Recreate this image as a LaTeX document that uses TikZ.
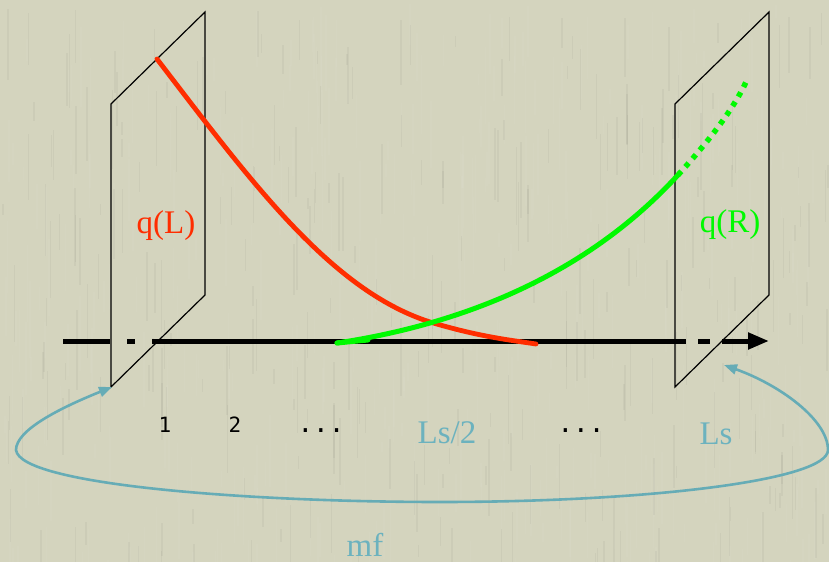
\documentclass[tikz,border=0pt]{standalone}
\usepackage{fontspec}
\setmainfont{Liberation Serif}
\newfontfamily\monofont{DejaVu Sans Mono}
\usetikzlibrary{arrows.meta}
\definecolor{bg}{RGB}{212,212,190}
\definecolor{qred}{RGB}{255,45,0}
\definecolor{qgreen}{RGB}{0,250,0}
\definecolor{teal}{RGB}{102,172,182}
\definecolor{tealtext}{RGB}{108,178,190}
\begin{document}
\begin{tikzpicture}[x=1bp,y=-1bp,
  plane/.style={draw=black,line width=1.2bp,line join=miter},
  axisline/.style={line width=5bp,black},
  curvered/.style={line width=4.8bp,qred,line cap=round},
  curvegreen/.style={line width=5bp,qgreen,line cap=round},
  loopline/.style={line width=2.6bp,teal,{Triangle[length=13bp,width=10bp]}-{Triangle[length=13bp,width=10bp]}},
  bigtext/.style={font=\fontsize{33bp}{36bp}\selectfont,inner sep=0pt,anchor=base},
  numtext/.style={font=\monofont\fontsize{21bp}{24bp}\selectfont,inner sep=0pt,anchor=base},
  dotstext/.style={font=\monofont\fontsize{26bp}{30bp}\selectfont,inner sep=0pt,anchor=base}]
\fill[bg] (0,0) rectangle (829,562);
\useasboundingbox (0,0) rectangle (829,562);
% texture
\pgfmathsetseed{12}
\foreach \i in {1,...,700}{
  \pgfmathsetmacro{\xx}{rnd*829}
  \pgfmathsetmacro{\yy}{rnd*562}
  \pgfmathsetmacro{\ll}{10+rnd*70}
  \pgfmathsetmacro{\cc}{rnd}
  \ifdim\cc pt<0.6pt \def\col{white}\else\def\col{black}\fi
  \draw[\col,opacity=0.035,line width=1.5bp] (\xx,\yy) -- ++(0,\ll);
}
% axis
\coordinate (a0) at (63,341);
\coordinate (a1) at (110,341);
\coordinate (a2) at (127,341);
\coordinate (a3) at (135,341);
\coordinate (a4) at (152,341);
\coordinate (a5) at (686,341);
\coordinate (a6) at (698,341);
\coordinate (a7) at (710,341);
\coordinate (a8) at (722,341);
\coordinate (a9) at (769,341);
\draw[axisline] (a0) -- (a1);
\draw[axisline] (a2) -- (a3);
\draw[axisline] (a4) -- (a5);
\draw[axisline] (a6) -- (a7);
\draw[axisline,-{Triangle[length=21bp,width=16bp]}] (a8) -- (a9);
% planes
\draw[plane] (111,104) -- (205,12) -- (205,295) -- (111,387) -- cycle;
\draw[plane] (675,104) -- (769,12) -- (769,295) -- (675,387) -- cycle;
% red curve
\coordinate (r0) at (157,59);
\coordinate (rx) at (430,322);
\coordinate (r1) at (536,344);
\draw[curvered] (r0) .. controls (250,180) and (330,290) .. (rx)
  .. controls (480,337) and (510,340) .. (r1);
% green curve
\coordinate (g0) at (337,343);
\coordinate (g1) at (678,175);
\coordinate (g2) at (746,82);
\draw[curvegreen] (g0) -- (368,340);
\draw[curvegreen] (g0) .. controls (450,326) and (580,282) .. (g1);
\draw[qgreen,line width=5.5bp,dash pattern=on 5bp off 6bp] (g1) .. controls (708,142) and (733,110) .. (g2);
% loop
\coordinate (lt) at (112,387);
\coordinate (rt) at (724,365);
\coordinate (lw) at (16,450);
\coordinate (lb) at (440,502);
\coordinate (le) at (828,450);
\draw[loopline] (lt) .. controls (60,408) and (16,430) .. (lw)
  .. controls (20,485) and (250,502) .. (lb)
  .. controls (650,502) and (828,480) .. (le)
  .. controls (828,420) and (780,385) .. (rt);
% labels
\node[bigtext,text=qred] (qL) at (166,234) {q(L)};
\node[bigtext,text=qgreen] (qR) at (730,233) {q(R)};
\node[numtext] (n1) at (165,432) {1};
\node[numtext] (n2) at (235,432) {2};
\node[dotstext] (d1) at (321,432) {...};
\node[dotstext] (d2) at (581,432) {...};
\node[bigtext,text=tealtext] (ls2) at (447,443) {Ls/2};
\node[bigtext,text=tealtext] (ls) at (716,444) {Ls};
\node[bigtext,text=tealtext] (mf) at (365,556) {mf};
\end{tikzpicture}
\end{document}
